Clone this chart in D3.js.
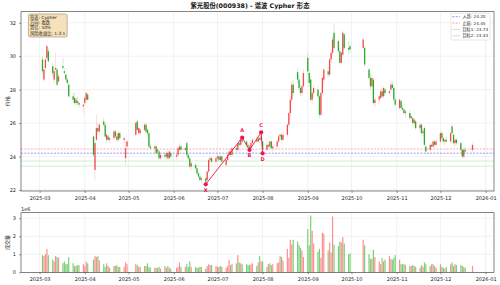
<!DOCTYPE html>
<html>
<head>
<meta charset="utf-8">
<script src="https://cdn.jsdelivr.net/npm/d3@7"></script>
<style>
  body { margin: 0; background: #fff; }
  svg { display: block; font-family: "DejaVu Sans", "Noto Sans CJK SC", sans-serif; }
</style>
</head>
<body>
<script>
// trading calendar
const firstDay = "2025-03-03";
const lastDay = "2025-12-23";
const closedDays = ["2025-04-04", "2025-05-01", "2025-05-02", "2025-05-05", "2025-06-02",
  "2025-10-01", "2025-10-02", "2025-10-03", "2025-10-06", "2025-10-07", "2025-10-08",
  "2025-12-19", "2025-12-22"];

// daily prices, one line per month (Mar .. Dec)
const opens = [
  29.8,28.6,29.3,29.9,30.3,29.4,28.6,29.2,29.2,28.5,29.4,29.1,28.9,28.6,28.3,27.6,27.5,27.2,27.3,27.2,27.0,
  27.2,27.4,27.7,25.2,23.2,25.0,25.7,25.5,26.1,25.9,25.0,25.2,25.0,25.1,25.5,25.2,25.0,25.4,25.0,23.9,24.6,
  25.3,26.1,25.4,25.4,25.6,25.9,25.6,25.4,24.6,24.5,24.6,24.3,24.3,23.9,24.1,24.0,24.2,23.9,24.2,
  24.0,24.1,24.4,24.6,24.4,24.8,24.1,23.9,23.4,23.5,23.3,23.0,22.8,22.6,22.7,22.6,23.1,23.8,23.9,23.7,
  23.9,24.0,23.8,24.0,23.5,23.8,24.1,24.3,24.1,24.5,24.4,24.8,24.7,25.0,24.9,24.7,24.6,24.5,24.8,25.0,24.9,25.1,25.0,
  24.9,24.4,24.7,24.6,24.9,24.5,24.6,24.9,25.2,25.3,25.0,25.3,25.9,26.6,27.4,28.3,29.05,28.6,28.1,27.8,28.2,
  29.9,29.0,28.6,27.4,27.8,28.0,27.6,26.5,27.8,28.6,29.1,28.9,29.8,30.2,31.4,30.9,30.3,29.6,30.1,31.3,30.5,30.6,
  30.5,30.5,29.2,28.7,28.2,28.6,27.2,27.4,27.5,27.9,27.6,28.0,27.8,28.0,28.3,28.1,27.4,
  26.9,27.3,26.9,26.8,26.6,26.6,26.3,26.3,26.0,26.1,25.7,25.9,25.4,25.7,24.6,24.4,24.7,24.6,24.9,24.7,
  24.9,25.4,25.1,24.9,25.0,24.9,25.8,25.3,24.8,25.0,24.8,24.4,24.0,24.4,24.4
];
const highs = [
  30.0,29.3,29.9,30.7,30.5,29.6,29.3,30.2,29.3,28.9,29.9,29.3,29.0,28.7,28.4,27.8,27.8,27.5,27.6,27.3,27.2,
  27.6,27.9,27.8,25.3,24.9,26.5,26.0,26.0,26.3,26.0,25.4,25.3,25.2,25.6,25.6,25.4,25.6,25.5,25.2,24.9,25.0,
  26.1,26.2,25.8,25.7,26.0,26.0,25.7,25.5,24.8,24.7,24.7,24.5,24.4,24.2,24.3,24.3,24.3,24.4,24.3,
  24.2,24.6,24.8,24.7,24.6,24.9,24.2,24.0,23.7,23.6,23.4,23.1,22.9,22.8,22.8,23.2,23.9,24.0,24.0,24.0,
  24.1,24.1,24.1,24.1,23.9,24.2,24.4,24.5,24.6,24.7,24.9,25.0,25.1,25.13,25.0,24.8,24.7,24.9,25.1,25.2,25.2,25.3,25.45,
  25.0,24.8,24.9,24.95,25.0,24.7,25.0,25.3,25.4,25.4,25.4,26.0,26.7,27.6,28.5,28.6,29.3,28.9,28.3,28.3,29.2,
  30.2,29.2,28.8,27.9,28.3,28.2,27.7,27.9,28.8,29.3,29.4,29.9,30.4,31.2,31.95,31.0,30.5,30.3,31.5,31.4,30.9,30.7,
  31.1,30.6,29.3,29.0,28.9,28.7,27.5,27.7,28.0,28.1,28.2,28.1,28.0,28.5,28.5,28.2,27.5,
  27.5,27.4,27.1,26.9,26.8,26.8,26.5,26.4,26.3,26.2,26.0,26.0,25.6,25.8,24.7,24.8,24.8,25.0,25.0,25.0,
  25.5,25.5,25.2,25.1,25.2,25.5,25.9,25.4,25.1,25.1,24.9,24.5,24.5,24.6,24.8
];
const lows = [
  28.9,28.5,29.2,29.8,29.6,28.8,28.4,28.9,28.2,28.4,29.2,28.9,28.5,28.3,27.5,27.2,27.1,27.0,27.1,26.9,26.6,
  27.1,27.3,27.3,24.0,22.6,24.9,25.3,25.3,25.8,25.1,24.8,24.9,24.8,25.0,25.1,24.9,24.9,25.0,24.8,23.5,24.5,
  25.2,25.5,25.3,25.3,25.5,25.4,25.2,24.5,24.4,24.3,24.1,24.1,23.8,23.8,23.9,23.8,23.8,23.8,23.9,
  23.8,24.0,24.3,24.3,24.3,24.0,23.8,23.3,23.2,23.2,22.9,22.7,22.5,22.4,22.34,22.5,23.0,23.6,23.6,23.6,
  23.7,23.7,23.7,23.6,23.4,23.7,24.0,24.0,24.0,24.3,24.3,24.6,24.6,24.8,24.6,24.5,24.39,24.4,24.7,24.8,24.8,24.9,24.9,
  24.19,24.3,24.5,24.5,24.4,24.3,24.5,24.8,25.0,24.9,24.9,25.2,25.8,26.4,27.2,27.6,28.4,28.0,27.6,27.6,28.1,
  28.9,28.2,27.3,27.1,27.5,27.5,26.3,26.4,27.7,28.3,28.7,28.8,29.6,30.0,30.4,30.2,29.5,29.5,30.0,30.4,30.1,30.2,
  30.4,29.4,28.6,28.0,28.1,27.1,27.0,27.2,27.4,27.5,27.5,27.7,27.7,27.9,28.0,27.3,27.0,
  26.8,26.8,26.7,26.5,26.3,26.2,26.1,25.9,25.8,25.6,25.5,25.3,25.2,24.6,24.2,24.3,24.5,24.5,24.6,24.6,
  24.8,25.0,24.8,24.7,24.8,24.8,25.3,24.7,24.6,24.7,24.3,23.9,23.9,24.2,24.3
];
const closes = [
  29.1,29.2,29.8,30.6,29.7,29.0,29.1,29.3,28.3,28.8,29.3,29.0,28.6,28.4,27.6,27.4,27.2,27.4,27.2,27.1,27.1,
  27.5,27.8,27.4,24.1,24.8,25.7,25.5,25.9,25.9,25.2,25.3,25.0,25.1,25.5,25.2,25.0,25.4,25.1,25.1,24.5,24.9,
  26.0,25.6,25.7,25.6,25.9,25.5,25.4,24.6,24.5,24.6,24.2,24.4,23.9,24.1,24.0,24.2,23.9,24.3,24.0,
  24.1,24.5,24.6,24.4,24.5,24.1,23.9,23.4,23.6,23.3,23.0,22.8,22.6,22.7,22.5,23.1,23.8,23.9,23.7,23.9,
  24.0,23.8,24.0,23.7,23.8,24.1,24.3,24.1,24.5,24.4,24.8,24.7,25.0,24.9,24.7,24.6,24.5,24.8,25.0,24.9,25.1,25.0,25.2,
  24.4,24.7,24.6,24.9,24.5,24.6,24.9,25.2,25.3,25.0,25.3,25.9,26.6,27.4,28.3,27.8,28.6,28.1,27.8,28.2,29.0,
  29.1,28.4,27.4,27.8,28.1,27.6,26.5,27.8,28.7,29.2,28.9,29.8,30.2,31.0,30.5,30.3,29.6,30.2,31.4,30.5,30.4,30.4,
  31.0,29.5,28.7,28.2,28.7,27.2,27.4,27.6,27.9,27.6,28.1,27.8,27.9,28.3,28.1,27.4,27.1,
  27.4,26.9,26.8,26.6,26.7,26.3,26.4,26.0,26.2,25.7,25.9,25.4,25.5,24.7,24.3,24.7,24.6,24.9,24.7,24.9,
  25.4,25.1,24.9,25.0,24.9,25.4,25.4,24.8,25.0,24.8,24.4,24.0,24.4,24.3,24.7
];
// volume in units of 1e6
const volumes = [
  0.95,0.9,1.0,1.3,0.95,0.7,0.6,0.9,0.85,0.8,0.5,0.6,0.45,0.45,0.85,0.5,0.35,0.35,0.4,0.4,0.45,
  0.35,0.6,0.5,0.7,0.9,0.85,0.9,0.65,0.45,0.3,0.5,0.35,0.25,0.35,0.35,0.4,0.3,0.3,0.3,0.55,0.45,
  0.45,0.4,0.3,0.3,0.35,0.35,0.5,0.3,0.25,0.25,0.25,0.25,0.3,0.2,0.35,0.25,0.35,0.25,0.2,
  0.25,0.3,0.55,0.3,0.3,0.45,0.3,0.6,0.3,0.3,0.25,0.25,0.3,0.3,0.2,0.35,0.45,0.4,0.4,0.35,
  0.3,0.3,0.35,0.3,0.25,0.35,0.7,0.4,0.45,0.5,0.95,0.55,0.5,0.45,0.45,0.4,0.4,0.45,0.5,0.35,0.55,0.9,0.6,
  0.6,0.3,0.45,0.5,0.4,0.45,0.5,0.55,0.9,0.85,0.65,1.3,0.8,1.8,1.55,1.8,1.7,1.5,1.35,1.2,0.85,
  2.4,1.5,3.15,2.3,1.6,1.15,1.3,0.8,2.2,2.15,1.2,1.65,1.1,3.1,1.55,1.45,1.7,1.65,1.95,1.6,1.0,1.05,
  1.8,1.5,1.0,0.75,0.75,1.25,0.85,0.6,0.45,0.8,0.6,0.7,0.9,0.75,0.7,0.8,0.95,
  0.7,0.45,0.45,0.45,0.4,0.35,0.35,0.4,0.35,0.3,0.25,0.4,0.3,0.55,0.45,0.35,0.45,0.45,0.35,0.25,
  0.45,0.3,0.25,0.2,0.3,0.45,0.55,0.35,0.45,0.4,0.4,0.35,0.3,0.25,0.35
];

// Cypher pattern points
const pointNames = ["X", "A", "B", "C", "D"];
const pointDates = ["2025-06-23", "2025-07-18", "2025-07-23", "2025-07-31", "2025-08-01"];
const pointPrices = [22.34, 25.13, 24.39, 25.45, 24.19];

// trade levels
const levelNames = ["入场", "止损", "目标1", "目标2"];
const levelValues = [24.20, 24.45, 23.73, 23.43];
const levelColors = ["#3b3bff", "#ff5a5a", "#9ed69e", "#9ed69e"];
const levelDash = ["2,1.3", "2,1.3", null, null];

const infoLines = ["形态: Cypher", "方向: 看跌", "置信: 50%", "风险收益比: 1:3.1"];
const title = "紫光股份(000938) - 谐波 Cypher 形态";
const priceTicks = [22, 24, 26, 28, 30, 32];
const volTicks = [0, 1e6, 2e6, 3e6];

const width = 500, height = 285;
const red = "#f23b3b", green = "#17a317";
const pink = "#f0144c";

const parse = d3.utcParse("%Y-%m-%d");
const dayKey = d3.utcFormat("%Y-%m-%d");
const closed = new Set(closedDays);
const dates = d3.utcDay.range(parse(firstDay), d3.utcDay.offset(parse(lastDay), 1))
    .filter(d => d.getUTCDay() % 6 !== 0 && !closed.has(dayKey(d)));

const bars = dates.map((d, i) => ({
    date: d, o: opens[i], h: highs[i], l: lows[i], c: closes[i], v: volumes[i] * 1e6
}));

const svg = d3.select("body").append("svg")
    .attr("width", width).attr("height", height);

const pane = { left: 21, right: 494, top: 11.7, bottom: 191 };
const vpane = { left: 21, right: 494, top: 212.7, bottom: 272.3 };

const t0 = dates[0], t1 = dates[dates.length - 1];
const pad = (t1 - t0) * 0.05;
const x = d3.scaleUtc()
    .domain([new Date(+t0 - pad), new Date(+t1 + pad)])
    .range([pane.left, pane.right]);
const y = d3.scaleLinear().domain([21.94, 32.66]).range([pane.bottom, pane.top]);
const yv = d3.scaleLinear()
    .domain([0, d3.max(bars, d => d.v) * 1.05])
    .range([vpane.bottom, vpane.top]);

const months = d3.utcMonth.range(d3.utcMonth.ceil(x.domain()[0]), x.domain()[1]);
const fmtMonth = d3.utcFormat("%Y-%m");
const dayPx = x(d3.utcDay.offset(t0, 1)) - x(t0);

// grids
function grid(p, yScale, yvals) {
    const g = svg.append("g").attr("stroke", "#e4e4e4").attr("stroke-width", 0.5);
    g.selectAll(".gx").data(months).enter().append("line")
        .attr("x1", d => x(d)).attr("x2", d => x(d))
        .attr("y1", p.top).attr("y2", p.bottom);
    g.selectAll(".gy").data(yvals).enter().append("line")
        .attr("x1", p.left).attr("x2", p.right)
        .attr("y1", d => yScale(d)).attr("y2", d => yScale(d));
}
grid(pane, y, priceTicks);
grid(vpane, yv, volTicks);

// level lines
svg.append("g").selectAll("line").data(levelValues).enter().append("line")
    .attr("x1", pane.left).attr("x2", pane.right)
    .attr("y1", d => y(d)).attr("y2", d => y(d))
    .attr("stroke", (d, i) => levelColors[i])
    .attr("stroke-width", (d, i) => i < 2 ? 0.6 : 0.5)
    .attr("stroke-dasharray", (d, i) => levelDash[i])
    .attr("opacity", 0.85);

// candles
const bw = dayPx * 0.9;
const candles = svg.append("g").selectAll("g").data(bars).enter().append("g");
candles.append("line")
    .attr("x1", d => x(d.date)).attr("x2", d => x(d.date))
    .attr("y1", d => y(d.h)).attr("y2", d => y(d.l))
    .attr("stroke", d => d.c >= d.o ? red : green)
    .attr("stroke-width", 0.6).attr("opacity", 0.3);
candles.append("rect")
    .attr("x", d => x(d.date) - bw / 2).attr("width", bw)
    .attr("y", d => y(Math.max(d.o, d.c)))
    .attr("height", d => Math.max(0.5, Math.abs(y(d.o) - y(d.c))))
    .attr("fill", d => d.c >= d.o ? red : green)
    .attr("opacity", 0.9);

// pattern
const pts = pointNames.map((n, i) => ({ name: n, date: parse(pointDates[i]), price: pointPrices[i] }));
svg.append("path").datum(pts)
    .attr("d", d3.line().x(d => x(d.date)).y(d => y(d.price)))
    .attr("fill", "none").attr("stroke", pink).attr("stroke-width", 0.9);
svg.append("g").selectAll("circle").data(pts).enter().append("circle")
    .attr("cx", d => x(d.date)).attr("cy", d => y(d.price)).attr("r", 2.1)
    .attr("fill", pink);
svg.append("g").selectAll("text").data(pts).enter().append("text")
    .attr("x", d => x(d.date))
    .attr("y", (d, i) => y(d.price) + (i % 2 === 1 ? -5.6 : 7.3))
    .attr("text-anchor", "middle")
    .attr("font-size", 5).attr("font-weight", "bold")
    .attr("fill", pink)
    .text(d => d.name);

// volume bars
const vw = dayPx * 0.8;
svg.append("g").selectAll("rect").data(bars).enter().append("rect")
    .attr("x", d => x(d.date) - vw / 2).attr("width", vw)
    .attr("y", d => yv(d.v)).attr("height", d => yv(0) - yv(d.v))
    .attr("fill", d => d.c >= d.o ? "#ff5c5c" : "#3cbf3c")
    .attr("opacity", 0.7);

// frames + axes
function frame(p) {
    svg.append("rect")
        .attr("x", p.left).attr("y", p.top)
        .attr("width", p.right - p.left).attr("height", p.bottom - p.top)
        .attr("fill", "none").attr("stroke", "#333").attr("stroke-width", 0.6);
}
frame(pane);
frame(vpane);

function styleAxis(g) {
    g.select(".domain").remove();
    g.selectAll(".tick line").attr("stroke", "#333").attr("stroke-width", 0.5);
    g.selectAll(".tick text").attr("fill", "#222").attr("font-size", 5)
        .attr("font-family", "DejaVu Sans");
}

svg.append("g").attr("transform", `translate(0,${pane.bottom})`)
    .call(d3.axisBottom(x).tickValues(months).tickFormat(fmtMonth).tickSize(2).tickPadding(3.5))
    .call(styleAxis);
svg.append("g").attr("transform", `translate(0,${vpane.bottom})`)
    .call(d3.axisBottom(x).tickValues(months).tickFormat(fmtMonth).tickSize(2).tickPadding(3.5))
    .call(styleAxis);
svg.append("g").attr("transform", `translate(${pane.left},0)`)
    .call(d3.axisLeft(y).tickValues(priceTicks).tickSize(2).tickPadding(3))
    .call(styleAxis);
svg.append("g").attr("transform", `translate(${vpane.left},0)`)
    .call(d3.axisLeft(yv).tickValues(volTicks).tickFormat(d => d / 1e6).tickSize(2).tickPadding(3))
    .call(styleAxis);

svg.append("text").attr("x", vpane.left).attr("y", 210.8)
    .attr("font-size", 5).attr("fill", "#222").text("1e6");

// axis titles
svg.append("text")
    .attr("transform", `translate(8.5,${(pane.top + pane.bottom) / 2}) rotate(-90)`)
    .attr("text-anchor", "middle").attr("font-size", 5).attr("fill", "#222")
    .text("价格");
svg.append("text")
    .attr("transform", `translate(8.5,${(vpane.top + vpane.bottom) / 2}) rotate(-90)`)
    .attr("text-anchor", "middle").attr("font-size", 5).attr("fill", "#222")
    .text("成交量");

svg.append("text").attr("x", 250).attr("y", 7.6)
    .attr("text-anchor", "middle").attr("font-size", 6.3).attr("font-weight", "bold")
    .attr("fill", "#111").text(title);

// info box (top-left)
const info = svg.append("g");
const infoBg = info.append("rect");
info.selectAll("text").data(infoLines).enter().append("text")
    .attr("x", 30).attr("y", (d, i) => 19.2 + i * 5.1)
    .attr("font-size", 4.3).attr("fill", "#222").text(d => d);
const ib = info.node().getBBox();
infoBg.attr("x", ib.x - 1.6).attr("y", 14).attr("width", ib.width + 3.2).attr("height", 23)
    .attr("rx", 1.5).attr("fill", "#f5deb3").attr("fill-opacity", 0.9)
    .attr("stroke", "#8a7550").attr("stroke-width", 0.5);

// levels legend (top-right)
const leg = svg.append("g");
const legBg = leg.append("rect");
const rows = leg.selectAll("g").data(levelValues).enter().append("g")
    .attr("transform", (d, i) => `translate(0,${16.7 + i * 6.35})`);
rows.append("line").attr("x1", 0).attr("x2", 7.5)
    .attr("stroke", (d, i) => levelColors[i]).attr("stroke-width", 0.6)
    .attr("stroke-dasharray", (d, i) => levelDash[i]);
rows.append("text").attr("x", 10).attr("y", 1.5)
    .attr("font-size", 4.2).attr("fill", "#222")
    .text((d, i) => `${levelNames[i]}: ${d.toFixed(2)}`);
const lb = leg.node().getBBox();
const legX = 491.5 - lb.width - 3;
leg.attr("transform", `translate(${legX},0)`);
legBg.attr("x", -1.5).attr("y", 13.3).attr("width", lb.width + 3).attr("height", 26.7)
    .attr("rx", 1).attr("fill", "#fff").attr("fill-opacity", 0.85)
    .attr("stroke", "#ccc").attr("stroke-width", 0.5);
</script>
</body>
</html>
